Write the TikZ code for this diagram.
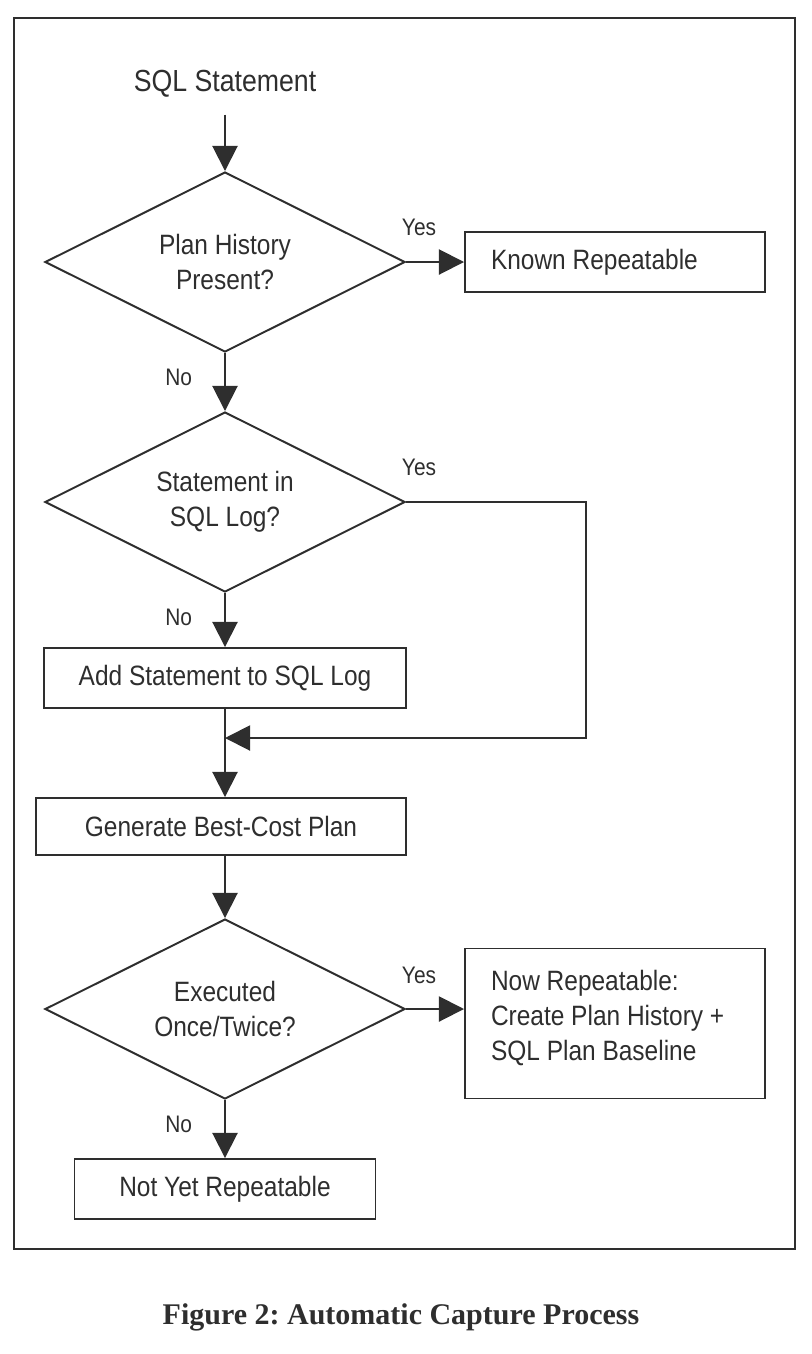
\documentclass[tikz,border=0pt]{standalone}
\usepackage{fontspec}
\setmainfont{Liberation Serif}
\newfontfamily\chartfont[FakeStretch=0.875]{Liberation Sans}
\usepackage{tikz}
\usetikzlibrary{shapes.geometric,arrows.meta}
\definecolor{ink}{HTML}{2E2E2E}
\frenchspacing

\begin{document}
\begin{tikzpicture}[node distance=4.5cm, >={Triangle[length=0.63cm,width=0.63cm]}, line width=1.4pt, draw=ink, text=ink]
\tikzstyle{block} = [rectangle, draw, minimum height=1.5cm, inner sep=0pt, font=\chartfont\fontsize{19.9pt}{24.9pt}\selectfont]
\tikzstyle{decision} = [diamond, draw, aspect=2, minimum width=9cm, minimum height=4.5cm, inner sep=0pt, align=center, font=\chartfont\fontsize{19.9pt}{24.9pt}\selectfont]
\tikzstyle{answer} = [inner sep=0pt, font=\chartfont\fontsize{17pt}{20pt}\selectfont]
\useasboundingbox (0,0) rectangle (20.3,-33.85);
\draw (0.35,-0.45) rectangle (19.875,-31.225);
\node[inner ysep=0.4cm, font=\chartfont\fontsize{21.7pt}{26pt}\selectfont] (sql) at (5.625,-2.1) {SQL Statement};
\node[decision, below of=sql, node distance=4.45cm] (d1) {Plan History\\Present?};
\node[block, right of=d1, node distance=9.75cm, minimum width=7.5cm, text width=6.2cm, align=flush left] (known) {Known Repeatable};
\node[decision, below of=d1, node distance=6cm] (d2) {Statement in\\SQL Log?};
\node[block, below of=d2, node distance=4.4cm, minimum width=9.05cm] (add) {Add Statement to SQL Log};
\coordinate[below of=add, node distance=1.5cm] (join);
\node[block, below of=add, node distance=3.7125cm, xshift=-0.1cm, minimum width=9.25cm, minimum height=1.425cm] (gen) {Generate Best-Cost Plan};
\node[decision, below of=gen, node distance=4.5625cm, xshift=0.1cm] (d3) {Executed\\Once/Twice?};
\node[block, right of=d3, node distance=9.75cm, yshift=-0.3625cm, minimum width=7.5cm, minimum height=3.75cm, text width=6.2cm, align=flush left] (now) {Now Repeatable:\\Create Plan History +\\SQL Plan Baseline\par\vspace{0.3cm}};
\node[block, below of=d3, minimum width=7.525cm] (notyet) {Not Yet Repeatable};
% answers
\node[answer, anchor=south west, xshift=-0.125cm, yshift=0.625cm] at (d1.east) {Yes};
\node[answer, anchor=south west, xshift=-0.125cm, yshift=0.625cm] at (d2.east) {Yes};
\node[answer, anchor=south west, xshift=-0.125cm, yshift=0.6cm] at (d3.east) {Yes};
\node[answer, anchor=south east, xshift=-0.8cm, yshift=-0.85cm] at (d1.south) {No};
\node[answer, anchor=south east, xshift=-0.8cm, yshift=-0.85cm] at (d2.south) {No};
\node[answer, anchor=south east, xshift=-0.8cm, yshift=-0.85cm] at (d3.south) {No};
% connectors
\draw[->] (sql) -- (d1);
\draw[->] (d1) -- (known);
\draw[->] (d1) -- (d2);
\draw[->] (d2) -- (add);
\draw[->] (d2.east) -- ++(4.5,0) |- (join);
\draw[->] (add.south) -- (add.south |- gen.north);
\draw[->] (gen.south -| d3.north) -- (d3.north);
\draw[->] (d3.east) -- (d3.east -| now.west);
\draw[->] (d3) -- (notyet);
\node[font=\bfseries\fontsize{21.34pt}{25pt}\selectfont] (title) at (10.025,-32.925) {Figure 2: Automatic Capture Process};
\end{tikzpicture}
\end{document}
